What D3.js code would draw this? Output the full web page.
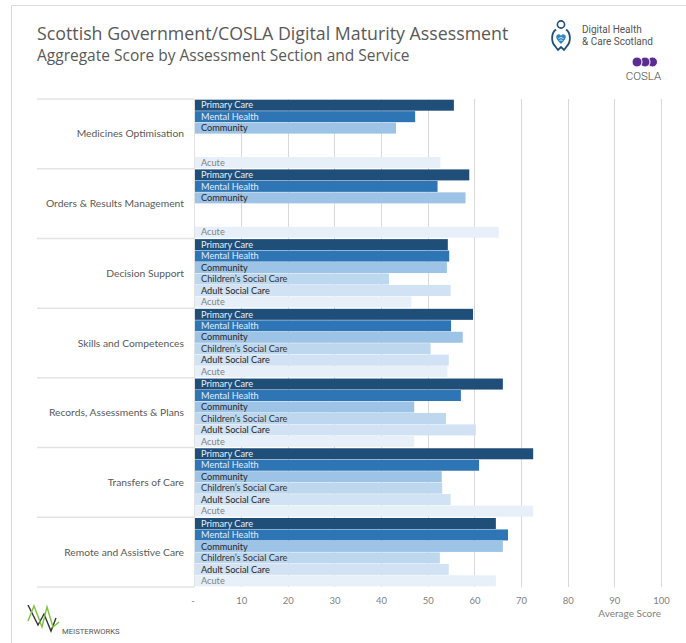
<!DOCTYPE html>
<html>
<head>
<meta charset="utf-8">
<script src="https://cdn.jsdelivr.net/npm/d3@7"></script>
<style>
  html, body { margin: 0; padding: 0; background: #fff; }
  svg { display: block; }
</style>
</head>
<body>
<svg id="chart" width="686" height="643"></svg>
<script>
// ---- DATA ----
const categories = [
  "Medicines Optimisation",
  "Orders & Results Management",
  "Decision Support",
  "Skills and Competences",
  "Records, Assessments & Plans",
  "Transfers of Care",
  "Remote and Assistive Care"
];
const services = ["Primary Care", "Mental Health", "Community", "Children\u2019s Social Care", "Adult Social Care", "Acute"];
const primaryCare         = [55.6, 58.9, 54.3, 59.7, 66.1, 72.6, 64.6];
const mentalHealth        = [47.3, 52.1, 54.6, 55.0, 57.1, 61.0, 67.2];
const community           = [43.2, 58.1, 54.1, 57.5, 47.1, 53.0, 66.1];
const childrensSocialCare = [null, null, 41.7, 50.6, 53.9, 53.1, 52.6];
const adultSocialCare     = [null, null, 54.9, 54.5, 60.3, 54.9, 54.5];
const acute               = [52.7, 65.2, 46.5, 54.2, 47.1, 72.6, 64.6];
const xTicks = [0, 10, 20, 30, 40, 50, 60, 70, 80, 90, 100];

const seriesValues = [primaryCare, mentalHealth, community, childrensSocialCare, adultSocialCare, acute];
const fills = ["#1f4e79", "#2e75b6", "#9dc3e6", "#bdd7ee", "#d0e2f3", "#e7eff8"];
const labelColors = ["#e8eef5", "#e3ecf6", "#262626", "#333333", "#262626", "#7f7f7f"];

const rows = [];
categories.forEach((c, ci) => {
  services.forEach((s, si) => {
    const v = seriesValues[si][ci];
    if (v !== null) rows.push({cat: c, service: s, si, value: v});
  });
});

const svg = d3.select("#chart");

// card border
svg.append("path")
  .attr("d", "M11.5,700 L11.5,5.5 L690,5.5")
  .attr("fill", "none").attr("stroke", "#d9d9d9").attr("stroke-width", 1);

// titles
svg.append("text").attr("x", 37).attr("y", 40)
  .attr("font-family", "Open Sans, sans-serif").attr("font-size", 17.8)
  .attr("fill", "#595959").text("Scottish Government/COSLA Digital Maturity Assessment");
svg.append("text").attr("x", 37).attr("y", 61)
  .attr("font-family", "Open Sans, sans-serif").attr("font-size", 15.5)
  .attr("fill", "#595959").text("Aggregate Score by Assessment Section and Service");

// scales
const plotTop = 99, plotBottom = 587;
const x = d3.scaleLinear().domain([0, 100]).range([194.5, 661]);
const y0 = d3.scaleBand().domain(categories).range([plotTop, plotBottom]).padding(0);
const y1 = d3.scaleBand().domain(services).range([0, y0.bandwidth()]).paddingInner(0.04).paddingOuter(0.06);

// gridlines
svg.append("g").selectAll("line").data(xTicks.filter(t => t > 0)).join("line")
  .attr("x1", d => Math.round(x(d)) + 0.5).attr("x2", d => Math.round(x(d)) + 0.5)
  .attr("y1", plotTop).attr("y2", plotBottom)
  .attr("stroke", "#d9d9d9").attr("stroke-width", 1);

// category label panel
const panel = svg.append("g");
const bounds = categories.map(c => y0(c)).concat([plotBottom]);
panel.selectAll("line.h").data(bounds).join("line")
  .attr("x1", 37).attr("x2", 194)
  .attr("y1", d => d).attr("y2", d => d)
  .attr("stroke", "#e3e3e3").attr("stroke-width", 1.5);
panel.append("line").attr("x1", 194.5).attr("x2", 194.5).attr("y1", plotTop).attr("y2", plotBottom)
  .attr("stroke", "#e3e3e3").attr("stroke-width", 1);
panel.selectAll("text").data(categories).join("text")
  .attr("x", 184).attr("y", d => y0(d) + y0.bandwidth() / 2 + 3.5)
  .attr("text-anchor", "end")
  .attr("font-family", "Lato, sans-serif").attr("font-size", 10.3)
  .attr("fill", "#595959").text(d => d);

// bars
const barG = svg.append("g");
barG.selectAll("rect").data(rows).join("rect")
  .attr("x", x(0) + 0.5)
  .attr("y", d => y0(d.cat) + y1(d.service))
  .attr("width", d => x(d.value) - x(0) - 0.5)
  .attr("height", y1.bandwidth())
  .attr("fill", d => fills[d.si]);

barG.selectAll("text").data(rows).join("text")
  .attr("x", 201)
  .attr("y", d => y0(d.cat) + y1(d.service) + y1.bandwidth() / 2 + 3.2)
  .attr("font-family", "Lato, sans-serif").attr("font-size", 9.2)
  .attr("fill", d => labelColors[d.si]).text(d => d.service);

// x axis
const axis = d3.axisBottom(x).tickValues(xTicks)
  .tickFormat(d => d === 0 ? "-" : d).tickSize(0).tickPadding(0);
const axG = svg.append("g").attr("transform", `translate(0,${597})`).call(axis);
axG.select(".domain").remove();
axG.selectAll("text").attr("font-family", "Lato, sans-serif").attr("font-size", 9.5)
  .attr("fill", "#7f7f7f");
axG.selectAll(".tick").filter(d => d === 0).select("text").attr("dx", -2);

svg.append("text").attr("x", 661).attr("y", 616.5).attr("text-anchor", "end")
  .attr("font-family", "Lato, sans-serif").attr("font-size", 10)
  .attr("fill", "#7f7f7f").text("Average Score");

// Digital Health & Care Scotland logo
const dh = svg.append("g");
dh.append("circle").attr("cx", 561).attr("cy", 24.5).attr("r", 3.6)
  .attr("fill", "none").attr("stroke", "#1d4f7c").attr("stroke-width", 1.6);
dh.append("path")
  .attr("d", "M556,29.5 C551,33 551,42 555,46 L558,50 L561,47 L564,50 L567,46 C571,42 571,33 566,29.5")
  .attr("fill", "none").attr("stroke", "#1d4f7c").attr("stroke-width", 1.8);
dh.append("path")
  .attr("d", "M561,44 C557,40 555,37 557,35 C559,33 561,35 561,36 C561,35 563,33 565,35 C567,37 565,40 561,44 Z")
  .attr("fill", "#2e86c1");
dh.append("path")
  .attr("d", "M558.5,38.5 Q561,36.5 563.5,38.5 M559.5,40.5 Q561,39.3 562.5,40.5")
  .attr("fill", "none").attr("stroke", "#fff").attr("stroke-width", 0.8);
dh.append("text").attr("x", 582).attr("y", 33)
  .attr("font-family", "Roboto, sans-serif").attr("font-size", 10).attr("fill", "#555")
  .text("Digital Health");
dh.append("text").attr("x", 582).attr("y", 45)
  .attr("font-family", "Roboto, sans-serif").attr("font-size", 10).attr("fill", "#555")
  .text("& Care Scotland");

// COSLA logo
const co = svg.append("g");
[652.5, 645, 637].forEach(cx => {
  co.append("circle").attr("cx", cx).attr("cy", 62).attr("r", 5)
    .attr("fill", "#5c2d91").attr("stroke", "#fff").attr("stroke-width", 1);
});
co.append("text").attr("x", 643.5).attr("y", 80).attr("text-anchor", "middle")
  .attr("font-family", "Roboto, sans-serif").attr("font-weight", 300).attr("font-size", 11.5).attr("fill", "#444")
  .text("COSLA");

// Meisterworks logo
const mw = svg.append("g");
mw.append("polyline").attr("points", "28,605 38,625 44,614 51,631 56,618")
  .attr("fill", "none").attr("stroke", "#333").attr("stroke-width", 1.4);
mw.append("polyline").attr("points", "28,621 34,606 42,627 47,607 53,627 59,622")
  .attr("fill", "none").attr("stroke", "#7dc242").attr("stroke-width", 1.4);
mw.append("text").attr("x", 62).attr("y", 634)
  .attr("font-family", "Roboto, sans-serif").attr("font-size", 7.7).attr("fill", "#555")
  .text("MEISTERWORKS");
</script>
</body>
</html>
